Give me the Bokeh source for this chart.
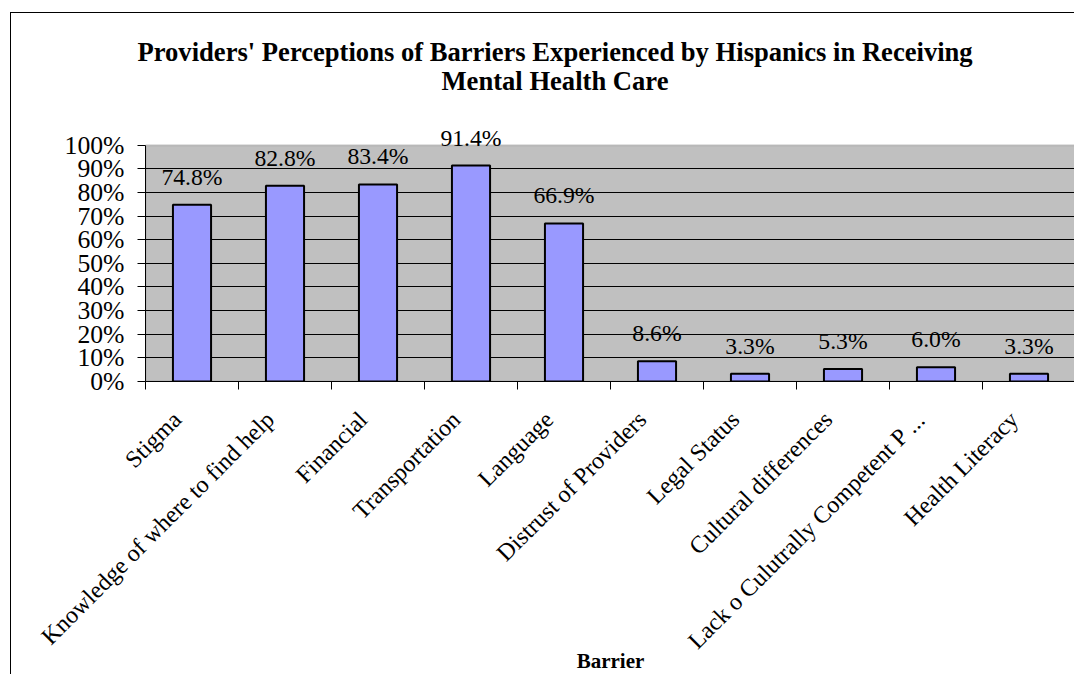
import numpy as np
from bokeh.plotting import figure
from bokeh.models import (ColumnDataSource, FixedTicker, NumeralTickFormatter,
                          LabelSet, Range1d, BoxAnnotation, Title)
from bokeh.embed import file_html
from bokeh.resources import INLINE

categories = ["Stigma", "Knowledge of where to find help", "Financial",
              "Transportation", "Language", "Distrust of Providers",
              "Legal Status", "Cultural differences",
              "Lack o Culutrally Competent P ...", "Health Literacy"]
values = [0.748, 0.828, 0.834, 0.914, 0.669, 0.086, 0.033, 0.053, 0.060, 0.033]
y_ticks = [0.0, 0.1, 0.2, 0.3, 0.4, 0.5, 0.6, 0.7, 0.8, 0.9, 1.0]
title_lines = ["Providers' Perceptions of Barriers Experienced by Hispanics in Receiving",
               "Mental Health Care"]
x_title = "Barrier"

FONT = "Liberation Serif"

n = len(categories)
centers = [i + 0.5 for i in range(n)]
labels = [f"{v*100:.1f}%" for v in values]
src = ColumnDataSource(dict(x=centers, top=values, label=labels))

# frame extends above 100% so the value labels and titles have room
p = figure(width=1064, height=662, x_range=Range1d(0, n),
           y_range=Range1d(0, y_ticks[-1] * 1.223),
           output_backend="svg", toolbar_location=None,
           min_border_left=134, min_border_right=0, min_border_top=79,
           min_border_bottom=294)
p.styles = {"border-left": "1px solid black", "border-top": "1px solid black",
            "margin-left": "10px", "margin-top": "12px"}

p.background_fill_color = "white"
p.border_fill_color = "white"
p.outline_line_color = None

# grey plot area
p.add_layout(BoxAnnotation(left=0, right=n, bottom=y_ticks[0], top=y_ticks[-1],
                           fill_color="#C0C0C0", fill_alpha=1.0,
                           line_color="#808080", line_width=2, level="image"))

p.vbar(x="x", top="top", width=0.41, source=src, fill_color="#9999FF",
       line_color="black", line_width=2)

ls = LabelSet(x="x", y="top", text="label", source=src, y_offset=28,
              text_align="center", text_baseline="middle",
              text_font=FONT, text_font_size="23.7px", text_color="black")
p.add_layout(ls)

# y axis
p.yaxis.ticker = FixedTicker(ticks=y_ticks)
p.yaxis.formatter = NumeralTickFormatter(format="0%")
p.yaxis.bounds = (y_ticks[0], y_ticks[-1])
p.yaxis.major_tick_out = 8
p.yaxis.major_tick_in = 0
p.yaxis.minor_tick_line_color = None
p.yaxis.axis_line_color = "black"
p.yaxis.major_label_text_font = FONT
p.yaxis.major_label_text_font_size = "25.7px"
p.yaxis.major_label_text_color = "black"
p.yaxis.major_label_standoff = 13

p.ygrid.ticker = FixedTicker(ticks=y_ticks[1:-1])
p.ygrid.grid_line_color = "black"
p.ygrid.grid_line_width = 1
p.xgrid.grid_line_color = None

# x axis: labels shifted slightly left of bar centres (Excel style)
label_pos = [c - 0.16 for c in centers]
p.xaxis.ticker = FixedTicker(ticks=label_pos, minor_ticks=list(range(n + 1)))
p.xaxis.major_label_overrides = {c: t for c, t in zip(label_pos, categories)}
p.xaxis.major_tick_line_color = None
p.xaxis.major_tick_out = 0
p.xaxis.major_tick_in = 0
p.xaxis.minor_tick_out = 8
p.xaxis.minor_tick_in = 0
p.xaxis.minor_tick_line_color = "black"
p.xaxis.axis_line_color = "black"
p.xaxis.major_label_orientation = np.pi / 4
p.xaxis.major_label_text_font = FONT
p.xaxis.major_label_text_font_size = "24px"
p.xaxis.major_label_text_color = "black"
p.xaxis.major_label_standoff = 26
p.xaxis.axis_label = x_title
p.xaxis.axis_label_text_font = FONT
p.xaxis.axis_label_text_font_size = "21px"
p.xaxis.axis_label_text_font_style = "bold"
p.xaxis.axis_label_text_color = "black"
p.xaxis.axis_label_standoff = -17

# title lines (added closest-first), left aligned with pixel offsets
p.add_layout(Title(text=title_lines[1], align="left", offset=296, standoff=-6,
                   text_font=FONT, text_font_size="26.6px", text_font_style="bold",
                   text_color="black"), "above")
p.add_layout(Title(text=title_lines[0], align="left", offset=-8, standoff=0,
                   text_font=FONT, text_font_size="26.6px", text_font_style="bold",
                   text_color="black"), "above")

open("out.html", "w").write(file_html(p, INLINE))
